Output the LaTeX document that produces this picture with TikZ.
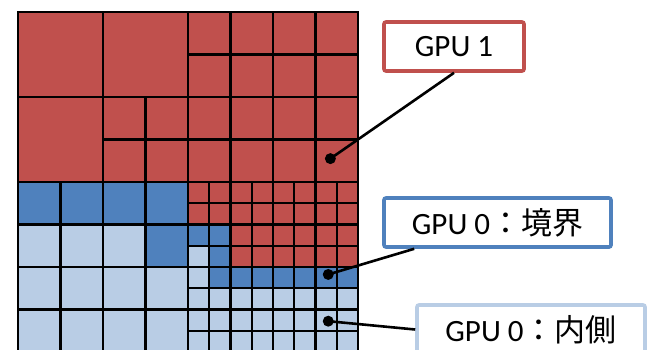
\documentclass[tikz,border=0pt]{standalone}
\usepackage{fontspec}
\setmainfont{Carlito}
\newfontfamily\cjk{Noto Sans CJK JP}
\usetikzlibrary{positioning,calc}
\definecolor{gpured}{RGB}{192,80,77}
\definecolor{gpublue}{RGB}{79,129,189}
\definecolor{gpulight}{RGB}{185,205,229}
\tikzset{
	every node/.style={font=\fontsize{31}{36}\selectfont}
}
\tikzset{
	cell/.style={draw=black,line width=2.2pt},
	red cell/.style={cell,fill=gpured},
	edge cell/.style={cell,fill=gpublue},
	inner cell/.style={cell,fill=gpulight},
	label box/.style={rectangle,rounded corners=2pt,line width=3.6pt,fill=white,minimum height=49pt,inner sep=0pt},
	leader dot/.style={circle,fill=black,inner sep=0pt,minimum size=11pt},
	leader/.style={line width=2.6pt}
}
\begin{document}
\begin{tikzpicture}[x=1pt,y=-1pt]
\clip (0,0) rectangle (653,349);
\begin{scope}[shift={(18,12)},x=21.25pt,y=-21.25pt]
	% level 0
	\foreach \x/\y in {0/0,4/0,0/4}
		\draw[red cell] (\x,\y) rectangle ++(4,4);
	% level 1
	\foreach \x in {8,10,12,14}
		\foreach \y in {0,2,4,6}
			\draw[red cell] (\x,\y) rectangle ++(2,2);
	\foreach \x/\y in {4/4,6/4,4/6,6/6}
		\draw[red cell] (\x,\y) rectangle ++(2,2);
	\foreach \x/\y in {0/8,2/8,4/8,6/8,6/10}
		\draw[edge cell] (\x,\y) rectangle ++(2,2);
	\foreach \x/\y in {0/10,2/10,4/10,0/12,2/12,4/12,6/12,0/14,2/14,4/14,6/14}
		\draw[inner cell] (\x,\y) rectangle ++(2,2);
	% level 2
	\foreach \y in {8,9}
		\foreach \x in {8,...,15}
			\draw[red cell] (\x,\y) rectangle ++(1,1);
	\foreach \y in {10,11}
		\foreach \x in {10,...,15}
			\draw[red cell] (\x,\y) rectangle ++(1,1);
	\foreach \x/\y in {8/10,9/10,9/11,10/12,11/12,12/12,13/12,14/12,15/12,9/12}
		\draw[edge cell] (\x,\y) rectangle ++(1,1);
	\foreach \x/\y in {8/11,8/12}
		\draw[inner cell] (\x,\y) rectangle ++(1,1);
	\foreach \y in {13,14,15}
		\foreach \x in {8,...,15}
			\draw[inner cell] (\x,\y) rectangle ++(1,1);
	\node[leader dot] (d1) at (14.7,6.9) {};
	\node[leader dot] (d2) at (14.6,12.35) {};
	\node[leader dot] (d3) at (14.6,14.55) {};
\end{scope}
\node[label box,draw=gpured,minimum width=140pt] (gpu1) at (454,46.5) {GPU 1};
\node[label box,draw=gpublue,minimum width=227pt] (gpu0b) at (497.5,222.5) {GPU 0{\cjk ：境界}};
\node[label box,draw=gpulight,minimum width=228pt] (gpu0i) at (531,329.5) {GPU 0{\cjk ：内側}};
\draw[leader] (d1.center) -- (gpu1.south);
\draw[leader] (d2.center) -- ([xshift=32pt]gpu0b.south west);
\draw[leader] (d3.center) -- (gpu0i.west);
\end{tikzpicture}
\end{document}
